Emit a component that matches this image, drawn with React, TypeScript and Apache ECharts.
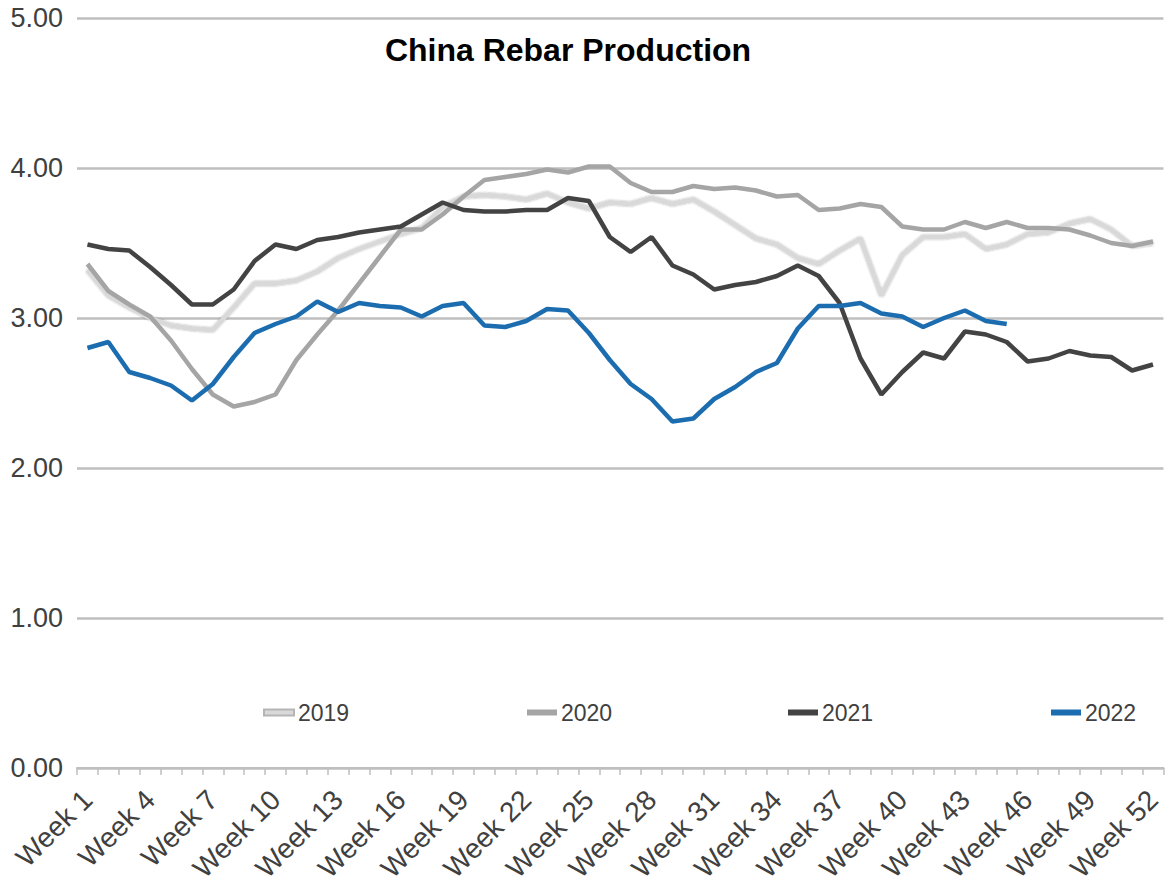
import React, { useEffect, useRef } from "react";
import * as echarts from "echarts";

const weeks: string[] = Array.from({ length: 52 }, (_, i) => `Week ${i + 1}`);
const seriesNames = ["2019", "2020", "2021", "2022"];

const y2019 = [3.32, 3.15, 3.07, 3.0, 2.95, 2.93, 2.92, 3.07, 3.23, 3.23, 3.25, 3.31, 3.4, 3.46, 3.51, 3.56, 3.6, 3.74, 3.81, 3.82, 3.81, 3.79, 3.83, 3.77, 3.73, 3.77, 3.76, 3.8, 3.76, 3.79, 3.71, 3.62, 3.53, 3.49, 3.4, 3.36, 3.45, 3.53, 3.15, 3.42, 3.54, 3.54, 3.56, 3.46, 3.49, 3.56, 3.57, 3.63, 3.66, 3.59, 3.48, 3.5];
const y2020 = [3.36, 3.18, 3.09, 3.01, 2.85, 2.66, 2.49, 2.41, 2.44, 2.49, 2.72, 2.89, 3.05, 3.23, 3.41, 3.59, 3.59, 3.69, 3.81, 3.92, 3.94, 3.96, 3.99, 3.97, 4.01, 4.01, 3.9, 3.84, 3.84, 3.88, 3.86, 3.87, 3.85, 3.81, 3.82, 3.72, 3.73, 3.76, 3.74, 3.61, 3.59, 3.59, 3.64, 3.6, 3.64, 3.6, 3.6, 3.59, 3.55, 3.5, 3.48, 3.51];
const y2021 = [3.49, 3.46, 3.45, 3.34, 3.22, 3.09, 3.09, 3.19, 3.38, 3.49, 3.46, 3.52, 3.54, 3.57, 3.59, 3.61, 3.69, 3.77, 3.72, 3.71, 3.71, 3.72, 3.72, 3.8, 3.78, 3.54, 3.44, 3.54, 3.35, 3.29, 3.19, 3.22, 3.24, 3.28, 3.35, 3.28, 3.1, 2.73, 2.49, 2.64, 2.77, 2.73, 2.91, 2.89, 2.84, 2.71, 2.73, 2.78, 2.75, 2.74, 2.65, 2.69];
const y2022 = [2.8, 2.84, 2.64, 2.6, 2.55, 2.45, 2.56, 2.74, 2.9, 2.96, 3.01, 3.11, 3.04, 3.1, 3.08, 3.07, 3.01, 3.08, 3.1, 2.95, 2.94, 2.98, 3.06, 3.05, 2.9, 2.72, 2.56, 2.46, 2.31, 2.33, 2.46, 2.54, 2.64, 2.7, 2.93, 3.08, 3.08, 3.1, 3.03, 3.01, 2.94, 3.0, 3.05, 2.98, 2.96];

const seriesData = [y2019, y2020, y2021, y2022];
const seriesColors = ["#d9d9d9", "#a5a5a5", "#434343", "#1c6db0"];
const legendLeft = [263, 527, 788, 1051];

const FONT = "'Liberation Sans', Arial, sans-serif";

export default function App() {
  const ref = useRef<HTMLDivElement>(null);
  useEffect(() => {
    if (!ref.current) return;
    const chart = echarts.init(ref.current, null, { renderer: "svg" });
    chart.setOption({
      animation: false,
      backgroundColor: "#ffffff",
      textStyle: { fontFamily: FONT },
      title: {
        text: "China Rebar Production",
        left: 563,
        textAlign: "center",
        top: 29,
        textStyle: { fontSize: 32, fontWeight: "bold", color: "#000000", fontFamily: FONT },
      },
      legend: seriesNames.map((n, i) => ({
        data: [n],
        left: legendLeft[i],
        top: 701,
        padding: 0,
        icon: "rect",
        itemWidth: 30,
        itemHeight: 6,
        itemGap: 4,
        textStyle: { fontSize: 23, color: "#404040", fontFamily: FONT, padding: [0, 0, 0, -1] },
      })),
      grid: { left: 77, right: 1, top: 18, bottom: 125, containLabel: false },
      xAxis: {
        type: "category",
        data: weeks,
        boundaryGap: true,
        axisLine: { show: true, lineStyle: { color: "#bfbfbf", width: 2 } },
        axisTick: { show: true, interval: 0, length: 7, lineStyle: { color: "#bfbfbf", width: 1.5 } },
        axisLabel: {
          interval: 2,
          rotate: 45,
          fontSize: 28,
          color: "#404040",
          margin: 27,
          fontFamily: FONT,
        },
        splitLine: { show: false },
      },
      yAxis: {
        type: "value",
        min: 0,
        max: 5,
        interval: 1,
        axisLine: { show: false },
        axisTick: { show: false },
        axisLabel: {
          formatter: (v: number) => v.toFixed(2),
          fontSize: 27,
          color: "#404040",
          margin: 14,
          fontFamily: FONT,
        },
        splitLine: { show: true, lineStyle: { color: "#bfbfbf", width: 2.5 } },
      },
      series: seriesNames.map((n, i) => ({
        name: n,
        type: "line",
        data: seriesData[i],
        symbol: "none",
        smooth: false,
        color: seriesColors[i],
        itemStyle: i === 0 ? { color: seriesColors[i], borderColor: "#b5b5b5", borderWidth: 1 } : { color: seriesColors[i] },
        lineStyle:
          i === 0
            ? { color: seriesColors[i], width: 4.5, shadowColor: "rgba(0,0,0,0.35)", shadowBlur: 2 }
            : { color: seriesColors[i], width: 4.5 },
        z: 2 + i,
      })),
    });
    return () => chart.dispose();
  }, []);
  return (
    <div
      ref={ref}
      style={{ position: "absolute", left: 0, top: 0, width: 1165, height: 893 }}
    />
  );
}
